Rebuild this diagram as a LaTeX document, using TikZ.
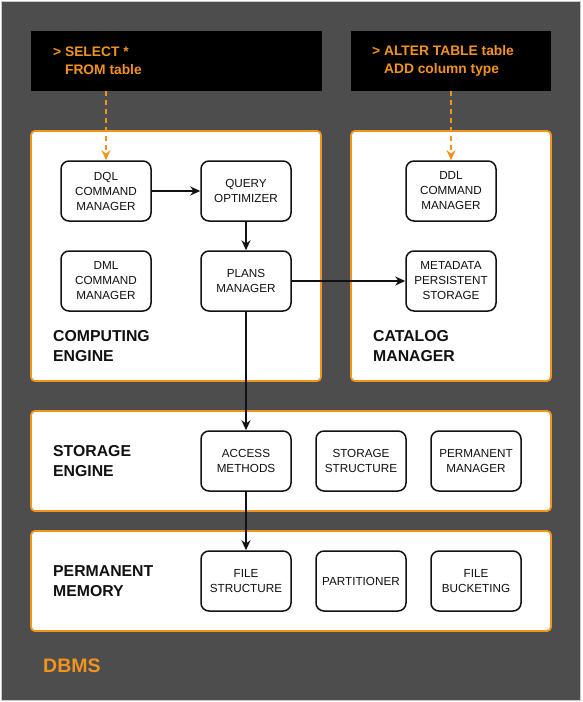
\documentclass[tikz,border=0pt]{standalone}
\usepackage{fontspec}
\setmainfont{Liberation Sans}
\usetikzlibrary{arrows.meta}
\definecolor{dbms}{HTML}{4D4D4D}
\definecolor{frame}{HTML}{C8C8C8}
\definecolor{accent}{HTML}{F2931E}
\definecolor{ink}{HTML}{111111}
\tikzset{
  panel/.style={draw=accent, line width=1.8pt, fill=white, rounded corners=4pt, inner sep=0pt},
  console/.style={fill=black, inner sep=0pt},
  part/.style={draw=ink, line width=1.5pt, fill=white, rounded corners=8pt, inner sep=0pt,
    minimum width=90pt, minimum height=60pt, align=center, text=ink,
    font=\fontsize{11.7}{15}\selectfont},
  title/.style={anchor=west, align=left, inner sep=0pt, text=ink,
    font=\bfseries\fontsize{15.8}{20}\selectfont},
  sql/.style={anchor=west, align=left, inner sep=0pt, text=accent,
    font=\bfseries\fontsize{13.8}{18}\selectfont},
  flow/.style={draw=ink, line width=1.4pt, -{Stealth[length=10pt,width=9pt]}},
  dashflow/.style={draw=accent, line width=1.6pt, dash pattern=on 5pt off 4pt,
    -{Stealth[length=10pt,width=9pt]}},
}
\newcommand{\Panel}[5]{%
  \node[panel, minimum width=#4pt, minimum height=#5pt] (#1) at (#2,#3) {};
}

\begin{document}
\begin{tikzpicture}[x=1pt,y=-1pt]
  \useasboundingbox (0,0) rectangle (582,702);
  \filldraw[fill=dbms, draw=frame, line width=1pt] (1.5,1.5) rectangle (580.5,700.5);
  % queries
  \node[console, minimum width=291pt, minimum height=60pt] (select) at (176.5,61) {};
  \node[console, minimum width=200pt, minimum height=60pt] (alter) at (451,61) {};
  \node[sql] (selecttext) at (53,61) {> SELECT *\\\phantom{> }FROM table};
  \node[sql] (altertext) at (372,61) {> ALTER TABLE table\\\phantom{> }ADD column type};
  % layers
  \Panel{computing}{176}{256}{290}{250}
  \Panel{catalog}{451}{256}{200}{250}
  \Panel{storage}{291}{461}{520}{100}
  \Panel{memory}{291}{581}{520}{100}
  \node[title] (computinglabel) at (53,346) {COMPUTING\\ENGINE};
  \node[title] (cataloglabel) at (373,346) {CATALOG\\MANAGER};
  \node[title] (storagelabel) at (53,461) {STORAGE\\ENGINE};
  \node[title] (memorylabel) at (53,581) {PERMANENT\\MEMORY};
  % parts
  \node[part] (dql) at (106,191) {DQL\\COMMAND\\MANAGER};
  \node[part] (optimizer) at (246,191) {QUERY\\OPTIMIZER};
  \node[part] (dml) at (106,281) {DML\\COMMAND\\MANAGER};
  \node[part] (plans) at (246,281) {PLANS\\MANAGER};
  \node[part] (ddl) at (451,191) {DDL\\COMMAND\\MANAGER};
  \node[part] (metadata) at (451,281) {METADATA\\PERSISTENT\\STORAGE};
  \node[part] (access) at (246,461) {ACCESS\\METHODS};
  \node[part] (structure) at (361,461) {STORAGE\\STRUCTURE};
  \node[part] (permanent) at (476,461) {PERMANENT\\MANAGER};
  \node[part] (file) at (246,581) {FILE\\STRUCTURE};
  \node[part] (partitioner) at (361,581) {PARTITIONER};
  \node[part] (bucketing) at (476,581) {FILE\\BUCKETING};
  % connectors
  \draw[dashflow] (select.south -| dql.north) -- (dql.north);
  \draw[dashflow] (alter.south -| ddl.north) -- (ddl.north);
  \draw[flow] (dql) -- (optimizer);
  \draw[flow] (optimizer) -- (plans);
  \draw[flow] (plans) -- (metadata);
  \draw[flow] (plans) -- (access);
  \draw[flow] (access) -- (file);
  \node[anchor=west, inner sep=0pt, text=accent, font=\bfseries\fontsize{19.5}{24}\selectfont] (dbmslabel) at (43,666) {DBMS};
\end{tikzpicture}
\end{document}
